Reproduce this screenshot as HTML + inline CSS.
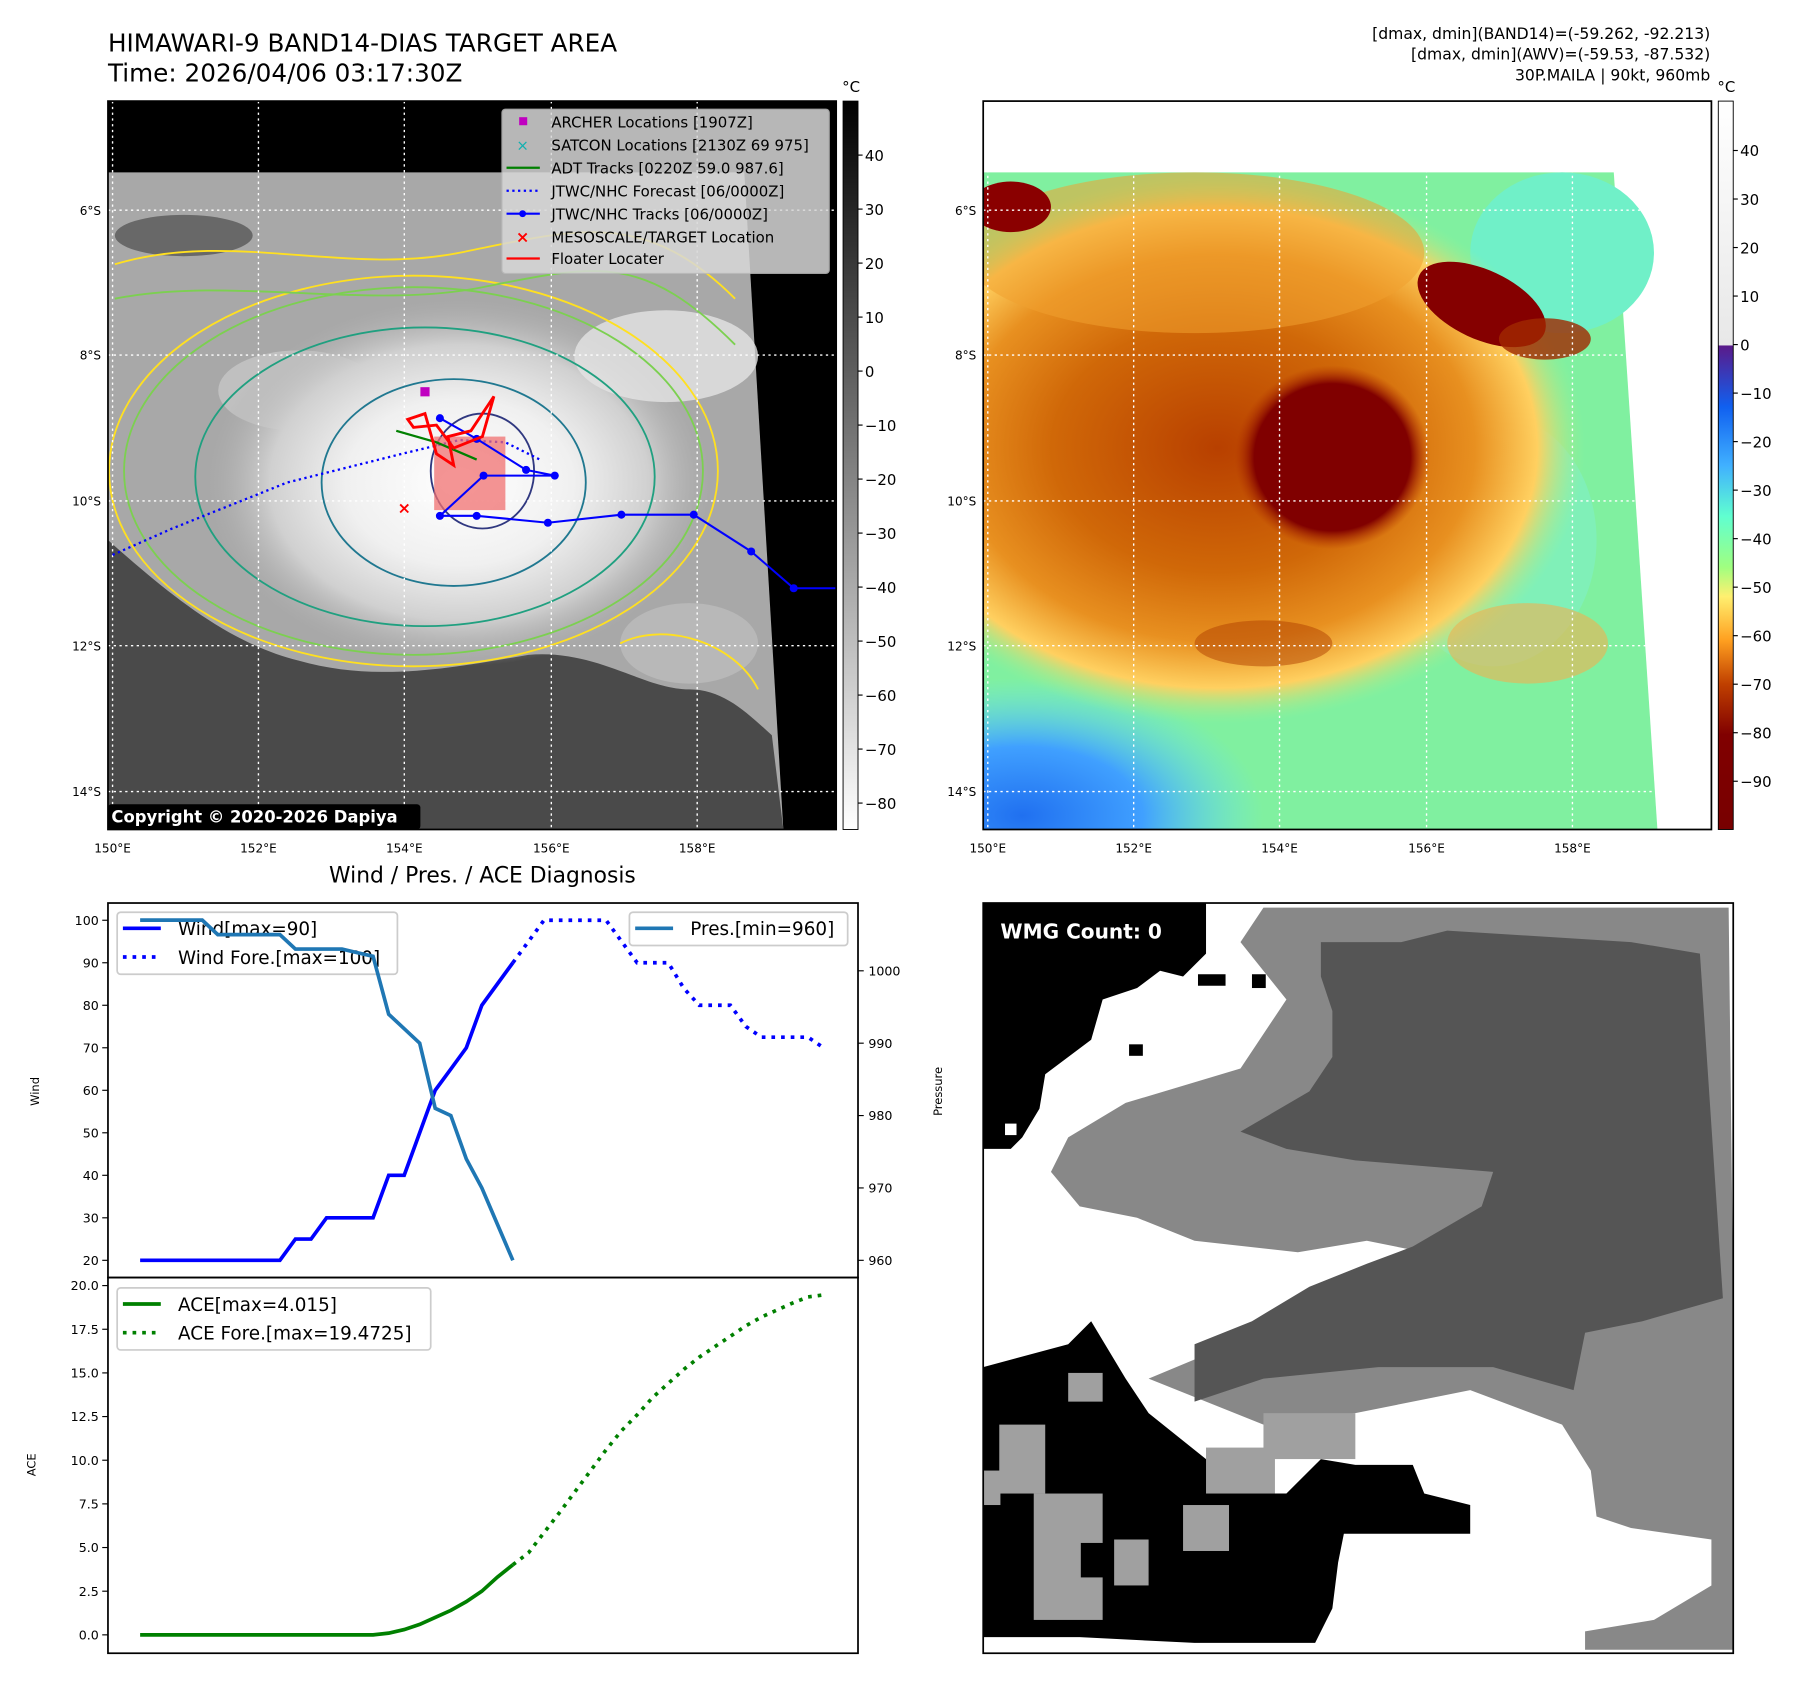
<!DOCTYPE html>
<html><head><meta charset="utf-8"><style>
html,body{margin:0;padding:0;background:#fff;}
svg{display:block;font-family:"DejaVu Sans","Liberation Sans",sans-serif;}
</style></head><body>
<svg id="root" width="1801" height="1690" viewBox="0 0 1568 1471" preserveAspectRatio="none" xmlns="http://www.w3.org/2000/svg">
<defs>
<linearGradient id="cb1" x1="0" y1="0" x2="0" y2="1"><stop offset="0" stop-color="#000"/><stop offset="1" stop-color="#fff"/></linearGradient>
<linearGradient id="cb2" x1="0" y1="0" x2="0" y2="1">
<stop offset="0" stop-color="#fff"/><stop offset="0.335" stop-color="#e8e8e8"/>
<stop offset="0.336" stop-color="#5a1a8a"/><stop offset="0.42" stop-color="#1060f0"/>
<stop offset="0.5" stop-color="#40b0ff"/><stop offset="0.57" stop-color="#60ffd0"/>
<stop offset="0.64" stop-color="#a0ff80"/><stop offset="0.68" stop-color="#fff070"/>
<stop offset="0.74" stop-color="#ffa020"/><stop offset="0.8" stop-color="#c04000"/>
<stop offset="0.87" stop-color="#800000"/><stop offset="1" stop-color="#780000"/></linearGradient>
<radialGradient id="ir1" cx="0.5" cy="0.5" r="0.5">
<stop offset="0" stop-color="#fff"/><stop offset="0.45" stop-color="#f0f0f0"/><stop offset="0.75" stop-color="#d0d0d0"/><stop offset="1" stop-color="#b0b0b0" stop-opacity="0"/></radialGradient>
<radialGradient id="ir2" cx="0.5" cy="0.5" r="0.5">
<stop offset="0" stop-color="#b84000"/><stop offset="0.45" stop-color="#d06808"/><stop offset="0.7" stop-color="#e89020"/><stop offset="0.87" stop-color="#ffd060"/><stop offset="1" stop-color="#a0f090" stop-opacity="0"/></radialGradient>
<radialGradient id="eye2" cx="0.5" cy="0.5" r="0.5"><stop offset="0" stop-color="#800000"/><stop offset="0.8" stop-color="#800000"/><stop offset="1" stop-color="#b03000" stop-opacity="0"/></radialGradient>
<radialGradient id="blue2" cx="0.5" cy="0.5" r="0.5"><stop offset="0" stop-color="#2070f0"/><stop offset="0.5" stop-color="#40a0ff"/><stop offset="1" stop-color="#60e0ff" stop-opacity="0"/></radialGradient>
<clipPath id="m1clip"><rect x="94" y="88" width="634" height="634"/></clipPath>
<clipPath id="m2clip"><rect x="856" y="88" width="634" height="634"/></clipPath>
</defs>

<text x="94" y="45" font-size="21.5">HIMAWARI-9 BAND14-DIAS TARGET AREA</text>
<text x="94" y="71" font-size="21.5">Time: 2026/04/06 03:17:30Z</text>
<g font-size="13.6" text-anchor="end">
<text x="1489" y="34">[dmax, dmin](BAND14)=(-59.262, -92.213)</text>
<text x="1489" y="52">[dmax, dmin](AWV)=(-59.53, -87.532)</text>
<text x="1489" y="70">30P.MAILA | 90kt, 960mb</text>
</g>

<g clip-path="url(#m1clip)">
<rect x="94" y="88" width="634" height="634" fill="#000"/>
<polygon points="94,150 648,150 682,722 94,722" fill="#a8a8a8"/>
<path d="M94,470 C150,520 200,560 260,575 C330,595 400,580 460,570 C520,565 560,600 600,600 C630,600 650,620 672,640 L682,722 L94,722 Z" fill="#4a4a4a"/>
<ellipse cx="160" cy="205" rx="60" ry="18" fill="#686868"/>
<ellipse cx="260" cy="340" rx="70" ry="35" fill="#c0c0c0"/>
<ellipse cx="400" cy="420" rx="220" ry="160" fill="url(#ir1)"/>
<ellipse cx="580" cy="310" rx="80" ry="40" fill="#e4e4e4" opacity="0.8"/>
<ellipse cx="600" cy="560" rx="60" ry="35" fill="#b8b8b8"/>
<g fill="none" stroke-width="1.6">
<ellipse cx="360" cy="410" rx="265" ry="170" stroke="#ffe020"/>
<ellipse cx="360" cy="410" rx="252" ry="160" stroke="#7cd050"/>
<ellipse cx="370" cy="415" rx="200" ry="130" stroke="#20a080"/>
<ellipse cx="395" cy="420" rx="115" ry="90" stroke="#207890"/>
<ellipse cx="420" cy="410" rx="45" ry="50" stroke="#303880"/>
<path d="M100,230 C200,200 300,240 400,220 S560,180 640,260" stroke="#ffe020"/>
<path d="M100,260 C200,240 320,270 420,250 S560,220 640,300" stroke="#7cd050"/>
<path d="M540,560 C580,540 640,560 660,600" stroke="#ffe020"/>
</g>
<g stroke="#fff" stroke-width="1.2" stroke-dasharray="2 3">
<line x1="98" y1="88" x2="98" y2="722"/><line x1="225" y1="88" x2="225" y2="722"/><line x1="352" y1="88" x2="352" y2="722"/><line x1="480" y1="88" x2="480" y2="722"/><line x1="607" y1="88" x2="607" y2="722"/>
<line x1="94" y1="183" x2="728" y2="183"/><line x1="94" y1="309" x2="728" y2="309"/><line x1="94" y1="436" x2="728" y2="436"/><line x1="94" y1="562" x2="728" y2="562"/><line x1="94" y1="689" x2="728" y2="689"/>
</g>
<polyline points="98,483 150,460 250,420 350,395 400,383 440,385 470,400" fill="none" stroke="#0000ff" stroke-width="2" stroke-dasharray="2 3"/>
<rect x="378" y="380" width="62" height="64" fill="#f07070" opacity="0.75"/>
<polyline points="728,512 691,512 654,480 604,448 541,448 477,455 415,449 383,449 421,414 483,414 458,409 415,382 383,364" fill="none" stroke="#0000ff" stroke-width="1.8"/>
<g fill="#0000ff"><circle cx="691" cy="512" r="3.5"/><circle cx="654" cy="480" r="3.5"/><circle cx="604" cy="448" r="3.5"/><circle cx="541" cy="448" r="3.5"/><circle cx="477" cy="455" r="3.5"/><circle cx="415" cy="449" r="3.5"/><circle cx="383" cy="449" r="3.5"/><circle cx="421" cy="414" r="3.5"/><circle cx="483" cy="414" r="3.5"/><circle cx="458" cy="409" r="3.5"/><circle cx="415" cy="382" r="3.5"/><circle cx="383" cy="364" r="3.5"/></g>
<polyline points="345,375 380,385 415,400" fill="none" stroke="#008000" stroke-width="2"/>
<path d="M355,365 L370,360 L380,395 L395,405 L390,380 L410,375 L430,345 L420,380 L395,390 L380,370 L360,372 Z" fill="none" stroke="#ff0000" stroke-width="2.5"/>
<rect x="366" y="337" width="8" height="8" fill="#c000c0"/>
<text x="352" y="447" font-size="14" fill="#ff0000" font-weight="bold" text-anchor="middle">×</text>
</g>
<rect x="94" y="88" width="634" height="634" fill="none" stroke="#000" stroke-width="1.5"/>
<g>
<rect x="437" y="95" width="285" height="143" rx="3" fill="#d8d8d8" opacity="0.85" stroke="#bbb"/>
<g font-size="13">
<rect x="452" y="102" width="7" height="7" fill="#c000c0"/><text x="480" y="111">ARCHER Locations [1907Z]</text>
<text x="455" y="131" fill="#10b0b0" font-size="13" text-anchor="middle">×</text><text x="480" y="131">SATCON Locations [2130Z 69 975]</text>
<line x1="441" y1="146" x2="470" y2="146" stroke="#008000" stroke-width="2"/><text x="480" y="151">ADT Tracks [0220Z 59.0 987.6]</text>
<line x1="441" y1="166" x2="470" y2="166" stroke="#0000ff" stroke-width="2" stroke-dasharray="2 3"/><text x="480" y="171">JTWC/NHC Forecast [06/0000Z]</text>
<line x1="441" y1="186" x2="470" y2="186" stroke="#0000ff" stroke-width="1.8"/><circle cx="455" cy="186" r="3" fill="#0000ff"/><text x="480" y="191">JTWC/NHC Tracks [06/0000Z]</text>
<text x="455" y="211" fill="#ff0000" font-size="14" font-weight="bold" text-anchor="middle">×</text><text x="480" y="211">MESOSCALE/TARGET Location</text>
<line x1="441" y1="225" x2="470" y2="225" stroke="#ff0000" stroke-width="2"/><text x="480" y="230">Floater Locater</text>
</g></g>
<rect x="94" y="700" width="272" height="22" rx="3" fill="#000"/>
<text x="97" y="716" font-size="14.3" font-weight="bold" fill="#fff">Copyright © 2020-2026 Dapiya</text>
<g font-size="10.5" text-anchor="middle">
<text x="98" y="742">150°E</text><text x="225" y="742">152°E</text><text x="352" y="742">154°E</text><text x="480" y="742">156°E</text><text x="607" y="742">158°E</text></g>
<g font-size="10.5" text-anchor="end">
<text x="88" y="187">6°S</text><text x="88" y="313">8°S</text><text x="88" y="440">10°S</text><text x="88" y="566">12°S</text><text x="88" y="693">14°S</text></g>
<rect x="734" y="88" width="13" height="634" fill="url(#cb1)" stroke="#000" stroke-width="0.8"/>
<text x="741" y="80" font-size="13" text-anchor="middle">°C</text>
<g font-size="13" id="cb1t"></g>

<g clip-path="url(#m2clip)">
<rect x="856" y="88" width="634" height="634" fill="#fff"/>
<polygon points="856,150 1405,150 1443,722 856,722" fill="#80f0a0"/>
<ellipse cx="1360" cy="220" rx="80" ry="70" fill="#70f0c8"/>
<ellipse cx="1300" cy="470" rx="90" ry="110" fill="#80f0b8"/>
<ellipse cx="890" cy="710" rx="210" ry="120" fill="url(#blue2)"/>
<ellipse cx="1060" cy="390" rx="320" ry="240" fill="url(#ir2)"/>
<ellipse cx="1040" cy="220" rx="200" ry="70" fill="#f0a030" opacity="0.55"/>
<ellipse cx="1160" cy="398" rx="85" ry="80" fill="url(#eye2)"/>
<ellipse cx="880" cy="180" rx="35" ry="22" fill="#8a0000"/>
<ellipse cx="1290" cy="265" rx="60" ry="30" fill="#850000" transform="rotate(25 1290 265)"/>
<ellipse cx="1345" cy="295" rx="40" ry="18" fill="#a02800" opacity="0.8"/>
<ellipse cx="1330" cy="560" rx="70" ry="35" fill="#f0b050" opacity="0.6"/>
<ellipse cx="1100" cy="560" rx="60" ry="20" fill="#b04000" opacity="0.5"/>
<g stroke="#fff" stroke-width="1.2" stroke-dasharray="2 3">
<line x1="860" y1="88" x2="860" y2="722"/><line x1="987" y1="88" x2="987" y2="722"/><line x1="1114" y1="88" x2="1114" y2="722"/><line x1="1242" y1="88" x2="1242" y2="722"/><line x1="1369" y1="88" x2="1369" y2="722"/>
<line x1="856" y1="183" x2="1490" y2="183"/><line x1="856" y1="309" x2="1490" y2="309"/><line x1="856" y1="436" x2="1490" y2="436"/><line x1="856" y1="562" x2="1490" y2="562"/><line x1="856" y1="689" x2="1490" y2="689"/>
</g></g>
<rect x="856" y="88" width="634" height="634" fill="none" stroke="#000" stroke-width="1.5"/>
<g font-size="10.5" text-anchor="middle">
<text x="860" y="742">150°E</text><text x="987" y="742">152°E</text><text x="1114" y="742">154°E</text><text x="1242" y="742">156°E</text><text x="1369" y="742">158°E</text></g>
<g font-size="10.5" text-anchor="end">
<text x="850" y="187">6°S</text><text x="850" y="313">8°S</text><text x="850" y="440">10°S</text><text x="850" y="566">12°S</text><text x="850" y="693">14°S</text></g>
<rect x="1496" y="88" width="13" height="634" fill="url(#cb2)" stroke="#000" stroke-width="0.8"/>
<text x="1503" y="80" font-size="13" text-anchor="middle">°C</text>
<g font-size="13" id="cb2t"></g>

<g>
<rect x="856" y="786" width="653" height="653" fill="#fff"/>
<polygon points="1130,790 1505,790 1509,1130 1509,1436 1380,1436 1380,1420 1440,1410 1490,1380 1490,1340 1420,1330 1390,1320 1385,1280 1360,1240 1280,1210 1180,1230 1100,1240 1050,1220 1000,1200 1120,1150 1200,1120 1240,1090 1190,1080 1130,1090 1040,1080 990,1060 940,1050 915,1020 930,990 980,960 1080,930 1120,870 1080,820 1100,790" fill="#888"/>
<polygon points="1150,820 1220,820 1260,810 1420,820 1480,830 1500,1130 1430,1150 1380,1160 1370,1210 1300,1190 1200,1190 1100,1200 1040,1220 1040,1170 1090,1150 1140,1120 1190,1100 1230,1085 1290,1050 1300,1020 1180,1010 1120,1000 1080,985 1140,950 1160,920 1160,880 1150,850" fill="#555"/>
<polygon points="856,786 1050,786 1050,830 1030,850 1010,845 990,860 960,870 950,905 910,935 905,965 890,990 880,1000 856,1000" fill="#000"/>
<polygon points="856,1190 930,1170 950,1150 980,1200 1000,1230 1050,1270 1060,1300 1120,1300 1150,1270 1180,1275 1230,1275 1240,1300 1280,1310 1280,1335 1170,1335 1165,1360 1160,1400 1145,1430 1040,1430 940,1425 856,1425" fill="#000"/>
<g fill="#a0a0a0"><rect x="930" y="1195" width="30" height="25"/><rect x="870" y="1240" width="40" height="60"/><rect x="900" y="1300" width="60" height="110"/><rect x="1050" y="1260" width="60" height="40"/><rect x="1100" y="1230" width="80" height="40"/><rect x="1030" y="1310" width="40" height="40"/><rect x="856" y="1280" width="15" height="30"/><rect x="970" y="1340" width="30" height="40"/></g>
<rect x="941" y="1343" width="26" height="30" fill="#000"/>
<g fill="#000"><rect x="1043" y="848" width="24" height="10"/><rect x="1090" y="848" width="12" height="12"/><rect x="983" y="909" width="12" height="10"/></g>
<rect x="875" y="978" width="10" height="10" fill="#fff"/>
<rect x="856" y="786" width="653" height="653" fill="none" stroke="#000" stroke-width="1.5"/>
<rect x="862" y="797" width="161" height="26" rx="3" fill="#000"/>
<text x="871" y="817" font-size="17.5" font-weight="bold" fill="#fff">WMG Count: 0</text>
</g>

<text x="420" y="768" font-size="19" text-anchor="middle">Wind / Pres. / ACE Diagnosis</text>
<g id="legends"></g>
<g id="charts"></g>
<rect x="94" y="786" width="653" height="326" fill="none" stroke="#000" stroke-width="1.5"/>
<rect x="94" y="1112" width="653" height="327" fill="none" stroke="#000" stroke-width="1.5"/>
<text transform="translate(34,950) rotate(-90)" font-size="10" text-anchor="middle">Wind</text>
<text transform="translate(820,950) rotate(-90)" font-size="10" text-anchor="middle">Pressure</text>
<text transform="translate(31,1275) rotate(-90)" font-size="10" text-anchor="middle">ACE</text>
</svg>
<script>
const windObs = [20,20,20,20,20,20,20,20,20,20,25,25,30,30,30,30,40,40,50,60,65,70,80,85,90];
const windFore = [90,95,100,100,100,100,100,95,90,90,90,84,80,80,80,75,72.5,72.5,72.5,72.5,70];
const presObs = [1007,1007,1007,1007,1007,1005,1005,1005,1005,1005,1003,1003,1003,1003,1002.5,1002,994,992,990,981,980,974,970,965,960];
const aceObs = [0,0,0,0,0,0,0,0,0,0,0,0,0,0,0,0,0.1,0.3,0.6,1.0,1.4,1.9,2.5,3.3,4.015];
const aceFore = [4.015,4.7,5.85,7.0,8.2,9.4,10.6,11.7,12.6,13.6,14.4,15.2,15.9,16.5,17.1,17.7,18.2,18.6,19.0,19.35,19.47];
const windTicks = [20,30,40,50,60,70,80,90,100];
const presTicks = [960,970,980,990,1000];
const aceTicks = ["0.0","2.5","5.0","7.5","10.0","12.5","15.0","17.5","20.0"];
const cb1Ticks = [40,30,20,10,0,-10,-20,-30,-40,-50,-60,-70,-80];
const cb2Ticks = [40,30,20,10,0,-10,-20,-30,-40,-50,-60,-70,-80,-90];

const NS="http://www.w3.org/2000/svg";
function xI(i){return 122+i*(717-122)/44;}
function yW(v){return 1097-(v-20)*(1097-801)/80;}
function yP(p){return 1097-(p-960)*(1097-845)/40;}
function yA(v){return 1423-v*(1423-1119)/20;}
function yC1(v){return 135+(40-v)*(699-135)/120;}
function yC2(v){return 131+(40-v)*(680-131)/130;}
function mk(tag,attrs,parent){const e=document.createElementNS(NS,tag);for(const k in attrs)e.setAttribute(k,attrs[k]);parent.appendChild(e);return e;}
const g=document.getElementById('charts');
function line(vals,off,yf,color,dash,name){
  const pts=vals.map((v,k)=>xI(k+off).toFixed(1)+','+yf(v).toFixed(1)).join(' ');
  const a={points:pts,fill:'none',stroke:color,'stroke-width':3.2};
  if(dash){a['stroke-dasharray']='3.2 5.2';}
  const e=mk('polyline',a,g);
  
  
}
const L=document.getElementById('legends');
function legend(x,y,w,h,items,name){
  const grp=mk('g',{},L);
  
  
  mk('rect',{x:x,y:y,width:w,height:h,rx:3,fill:'#fff','fill-opacity':0.8,stroke:'#ccc','stroke-width':1.5},grp);
  items.forEach((it,k)=>{const yy=y+14+k*25;
    const a={x1:x+5,x2:x+38,y1:yy,y2:yy,stroke:it[1],'stroke-width':3.2};if(it[2])a['stroke-dasharray']='3.2 5.2';
    mk('line',a,grp);const t=mk('text',{x:x+53,y:yy+6,'font-size':16},grp);t.textContent=it[0];});
}
legend(102,794,244,54,[['Wind[max=90]','#0000ff',false],['Wind Fore.[max=100]','#0000ff',true]],'wind-legend');
legend(548,794,190,29,[['Pres.[min=960]','#1f77b4',false]],'pressure-legend');
legend(102,1121,273,54,[['ACE[max=4.015]','#008000',false],['ACE Fore.[max=19.4725]','#008000',true]],'ace-legend');

line(windObs,0,yW,'#0000ff',false,'wind-line');
line(windFore,24,yW,'#0000ff',true,'wind-forecast-line');
line(presObs,0,yP,'#1f77b4',false,'pressure-line');
line(aceObs,0,yA,'#008000',false,'ace-line');
line(aceFore,24,yA,'#008000',true,'ace-forecast-line');
function tick(x1,x2,y,lab,lx,anchor,fs){
  mk('line',{x1:x1,x2:x2,y1:y,y2:y,stroke:'#000','stroke-width':1},g);
  const t=mk('text',{x:lx,y:y+4,'font-size':fs,'text-anchor':anchor},g);t.textContent=lab;
  
  
}
windTicks.forEach(v=>tick(89,94,yW(v),v,86,'end',11));
presTicks.forEach(v=>tick(747,752,yP(v),v,756,'start',11));
aceTicks.forEach(v=>tick(89,94,yA(parseFloat(v)),v,86,'end',11));
const c1=document.getElementById('cb1t');
cb1Ticks.forEach(v=>{mk('line',{x1:747,x2:751,y1:yC1(v),y2:yC1(v),stroke:'#000'},c1);const t=mk('text',{x:753,y:yC1(v)+5},c1);t.textContent=(v<0?'\u2212'+(-v):v);

});
const c2=document.getElementById('cb2t');
cb2Ticks.forEach(v=>{mk('line',{x1:1509,x2:1513,y1:yC2(v),y2:yC2(v),stroke:'#000'},c2);const t=mk('text',{x:1515,y:yC2(v)+5},c2);t.textContent=(v<0?'\u2212'+(-v):v);

});
</script>
</body></html>
